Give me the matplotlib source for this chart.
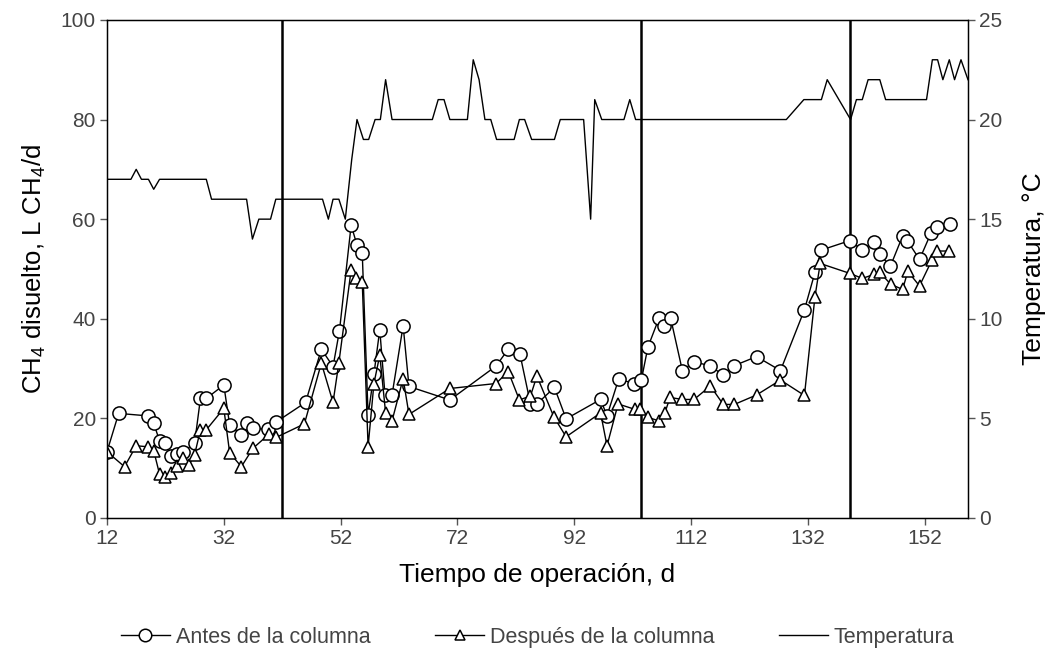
import matplotlib
matplotlib.use("Agg")
import matplotlib.pyplot as plt
from matplotlib.lines import Line2D

plt.rcParams['font.family'] = ['Liberation Sans', 'DejaVu Sans']
plt.rcParams['mathtext.fontset'] = 'custom'
plt.rcParams['mathtext.rm'] = 'Liberation Sans'
plt.rcParams['mathtext.it'] = 'Liberation Sans:italic'
plt.rcParams['font.size'] = 15

# Dissolved CH4 before the column (L CH4/d)
antes_dias = [12, 14, 19, 20, 21, 22, 23, 24, 25, 27, 28, 29, 32, 33, 35, 36, 37,
              39.6, 41, 46, 48.7, 50.7, 51.8, 53.8, 54.8, 55.7, 56.7, 57.7, 58.7,
              59.6, 60.8, 62.7, 63.7, 70.7, 78.6, 80.7, 82.7, 84.5, 85.6, 88.6,
              90.6, 96.5, 97.6, 99.6, 102.2, 103.5, 104.6, 106.5, 107.4, 108.5,
              110.5, 112.5, 115.3, 117.5, 119.4, 123.2, 127.3, 131.4, 133.2, 134.3,
              139.2, 141.3, 143.3, 144.3, 146.1, 148.2, 149.0, 151.1, 153.1, 154.1,
              156.3]
antes_ch4 = [13.3, 21.0, 20.5, 19.0, 15.5, 15.0, 12.4, 12.9, 13.3, 15.0, 24.0, 24.0,
             26.7, 18.7, 16.7, 19.0, 18.0, 17.8, 19.3, 23.2, 33.9, 30.4, 37.6, 58.8,
             54.8, 53.2, 20.7, 28.9, 37.8, 24.6, 24.7, 38.6, 26.4, 23.7, 30.5, 33.9,
             32.9, 22.9, 22.9, 26.2, 19.9, 23.8, 20.5, 27.9, 27.0, 27.8, 34.3, 40.1,
             38.6, 40.1, 29.6, 31.4, 30.5, 28.7, 30.6, 32.4, 29.6, 41.8, 49.3, 53.8,
             55.7, 53.8, 55.5, 53.0, 50.5, 56.6, 55.7, 51.9, 57.3, 58.4, 59.0]

# Dissolved CH4 after the column (L CH4/d)
despues_dias = [12, 15, 17, 19, 20, 21, 22, 23, 24, 25, 26, 27, 28, 29, 32, 33, 35,
                37, 39.8, 41, 45.8, 48.7, 50.7, 51.7, 53.8, 54.7, 55.7, 56.7, 57.7,
                58.7, 59.7, 60.8, 62.7, 63.7, 70.7, 78.6, 80.7, 82.6, 84.5, 85.6,
                88.5, 90.6, 96.5, 97.6, 99.5, 102.4, 103.3, 104.6, 106.5, 107.5,
                108.4, 110.5, 112.5, 115.3, 117.5, 119.4, 123.2, 127.3, 131.4, 133.2,
                134.1, 139.2, 141.3, 143.3, 144.3, 146.2, 148.2, 149.1, 151.1, 153.2,
                154.1, 156.1]
despues_ch4 = [13.3, 10.3, 14.5, 14.3, 13.5, 8.8, 8.3, 9.0, 10.4, 12.0, 10.6, 12.7,
               17.7, 17.7, 22.0, 13.1, 10.3, 14.0, 16.9, 16.2, 18.9, 31.1, 23.2, 31.2,
               49.8, 48.1, 47.4, 14.3, 27.0, 32.7, 21.1, 19.5, 28.0, 20.8, 26.0, 27.0,
               29.4, 23.7, 24.5, 28.5, 20.3, 16.3, 21.1, 14.5, 22.9, 21.8, 21.9, 20.2,
               19.5, 21.1, 24.2, 23.8, 23.8, 26.5, 22.8, 22.8, 24.7, 27.7, 24.6, 44.4,
               51.1, 49.1, 48.1, 48.9, 49.3, 46.9, 45.9, 49.5, 46.6, 51.7, 53.6, 53.6]

# Temperature (°C)
temp_dias = [12, 16.1, 17, 17.9, 19.1, 20, 21, 29, 29.9, 35.9, 36.9, 38, 40, 40.9,
             48.9, 49.9, 50.7, 51.7, 52.8, 53.9, 54.8, 55.9, 56.8, 57.9, 58.8, 59.7,
             60.8, 67.7, 68.7, 69.7, 70.7, 73.7, 74.7, 75.7, 76.7, 77.7, 78.7, 81.7,
             82.6, 83.5, 84.7, 88.6, 89.6, 93.6, 94.8, 95.5, 96.7, 100.5, 101.5,
             102.5, 128.3, 131.3, 134.3, 135.3, 139.3, 140.3, 141.3, 142.3, 144.3,
             145.3, 152.3, 153.3, 154.2, 155.1, 156.2, 157.1, 158.2, 159.4]
temp_c = [17, 17, 17.5, 17, 17, 16.5, 17, 17, 16, 16, 14, 15, 15, 16,
          16, 15, 16, 16, 15, 18, 20, 19, 19, 20, 20, 22,
          20, 20, 21, 21, 20, 20, 23, 22, 20, 20, 19, 19,
          20, 20, 19, 19, 20, 20, 15, 21, 20, 20, 21,
          20, 20, 21, 21, 22, 20, 21, 21, 22, 22,
          21, 21, 23, 23, 22, 23, 22, 23, 22]

# Phase boundaries (d)
fases = [42, 103.4, 139.2]

x_ticks = [12, 32, 52, 72, 92, 112, 132, 152]

fig = plt.figure(figsize=(10.54, 6.64), dpi=100)
ax = fig.add_axes([0.1015, 0.2199, 0.8169, 0.7501])

ax.plot(antes_dias, antes_ch4, color='black', lw=1.0, marker='o', ms=9.5,
        mfc='white', mec='black', mew=1.1, zorder=3)
ax.plot(despues_dias, despues_ch4, color='black', lw=1.0, marker='^', ms=8,
        mfc='white', mec='black', mew=1.1, zorder=3)

for xv in fases:
    ax.axvline(xv, color='black', lw=1.8, zorder=2)

ax.set_xlim(12, 159.4)
ax.set_ylim(0, 100)
ax.set_xticks(x_ticks)
ax.set_yticks(range(0, 101, 20))
ax.tick_params(direction='out', length=5, width=1, pad=3, labelsize=15,
               colors='#555555', labelcolor='#444444')
for s in ax.spines.values():
    s.set_color('black')
    s.set_linewidth(1.0)
ax.set_xlabel('Tiempo de operación, d', fontsize=19, labelpad=11)
ax.set_ylabel('CH$_4$ disuelto, L CH$_4$/d', fontsize=18.5, labelpad=9)

ax2 = ax.twinx()
ax2.plot(temp_dias, temp_c, color='black', lw=1.0)
ax2.set_ylim(0, 25)
ax2.set_yticks(range(0, 26, 5))
ax2.tick_params(direction='out', length=5, width=1, pad=3, labelsize=15,
                colors='#555555', labelcolor='#444444')
ax2.set_ylabel('Temperatura, °C', fontsize=19, labelpad=14)

handles = [
    Line2D([], [], color='black', lw=1.0, marker='o', ms=9, mfc='white', mec='black', mew=1.1),
    Line2D([], [], color='black', lw=1.0, marker='^', ms=7, mfc='white', mec='black', mew=1.1),
    Line2D([], [], color='black', lw=1.0),
]
labels = ['Antes de la columna', 'Después de la columna', 'Temperatura']
leg = fig.legend(handles, labels, loc='center', bbox_to_anchor=(0.51, 0.04),
                 ncol=3, frameon=False, fontsize=15.5, columnspacing=3.0,
                 handlelength=2.3, handletextpad=0.25)
for t in leg.get_texts():
    t.set_color('#444444')

fig.savefig('out.png', dpi=100)
